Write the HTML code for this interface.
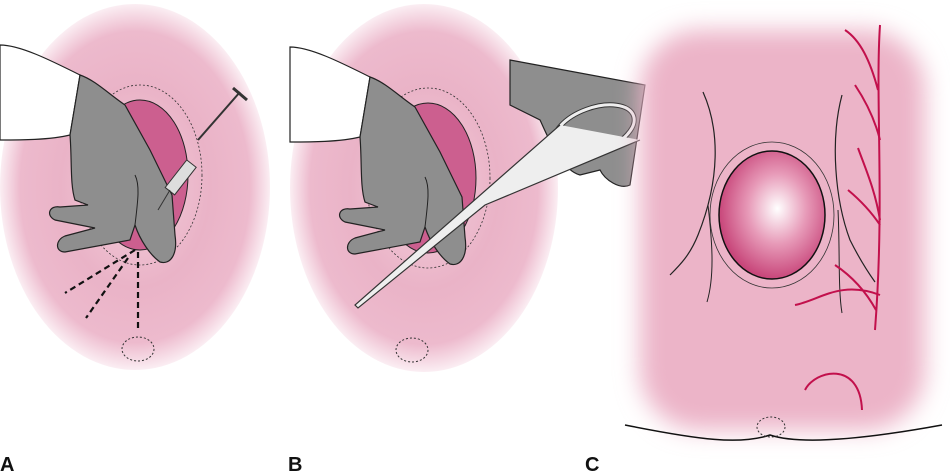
<!DOCTYPE html>
<html><head><meta charset="utf-8"><style>
html,body{margin:0;padding:0;background:#fff;width:950px;height:475px;overflow:hidden}
svg{display:block}
text{font-family:"Liberation Sans",sans-serif;font-weight:bold;font-size:20px;fill:#111}
</style></head><body>
<svg width="950" height="475" viewBox="0 0 950 475" xmlns="http://www.w3.org/2000/svg">
<defs>
<radialGradient id="pk" cx="50%" cy="50%" r="50%">
<stop offset="0" stop-color="#f3cfdc"/><stop offset="0.55" stop-color="#eab3c7"/><stop offset="0.85" stop-color="#edbacd"/><stop offset="1" stop-color="#fbeef3"/>
</radialGradient>
<radialGradient id="sac" cx="55%" cy="45%" r="55%">
<stop offset="0" stop-color="#fff"/><stop offset="0.5" stop-color="#e79ab8"/><stop offset="1" stop-color="#c8467a"/>
</radialGradient>
<filter id="bl"><feGaussianBlur stdDeviation="12"/></filter>
<g id="hand">
<path d="M0,45 C20,45 50,60 80,75 L70,135 C50,140 20,140 0,140 Z" fill="#fff" stroke="#222" stroke-width="1.2"/>
<path d="M80,75 C95,80 110,95 125,105 L150,150 L172,195 L175,235 C178,255 170,265 160,262 C150,255 140,240 135,225 L130,240 L65,252 C55,252 55,240 65,236 L95,228 L55,220 C45,215 50,205 60,207 L88,205 L75,200 C70,185 72,160 70,135 Z" fill="#8e8e8e" stroke="#222" stroke-width="1.2"/>
<path d="M135,225 C138,200 140,185 135,175" fill="none" stroke="#222" stroke-width="1"/>
</g>
</defs>
<ellipse cx="135" cy="187" rx="135" ry="183" fill="url(#pk)"/>
<ellipse cx="140" cy="175" rx="48" ry="75" fill="#cc5f8f" stroke="#222"/>
<ellipse cx="140" cy="175" rx="62" ry="90" fill="none" stroke="#333" stroke-dasharray="2 2" stroke-width="0.8"/>
<use href="#hand"/>
<g stroke="#333" fill="#ddd" stroke-width="1">
<rect x="175" y="160" width="12" height="35" transform="rotate(38 181 177)"/>
<line x1="170" y1="190" x2="158" y2="210"/>
<line x1="198" y1="140" x2="240" y2="92" stroke-width="2"/>
<line x1="233" y1="88" x2="247" y2="100" stroke-width="3"/>
</g>
<g stroke="#111" stroke-width="2.2" stroke-dasharray="6 4" fill="none">
<line x1="135" y1="250" x2="65" y2="293"/><line x1="128" y1="258" x2="86" y2="318"/><line x1="138" y1="252" x2="138" y2="330"/>
</g>
<ellipse cx="138" cy="349" rx="16" ry="12" fill="none" stroke="#333" stroke-dasharray="2 2"/>
<ellipse cx="424" cy="188" rx="134" ry="184" fill="url(#pk)"/>
<ellipse cx="428" cy="178" rx="48" ry="75" fill="#cc5f8f" stroke="#222"/>
<ellipse cx="428" cy="178" rx="62" ry="90" fill="none" stroke="#333" stroke-dasharray="2 2" stroke-width="0.8"/>
<use href="#hand" transform="translate(290,2)"/>
<path d="M510,60 L645,85 L630,185 C620,190 605,180 600,170 L580,175 C560,170 545,130 540,120 L510,105 Z" fill="#8e8e8e" stroke="#222" stroke-width="1.2"/>
<ellipse cx="594" cy="130" rx="42" ry="22" fill="none" stroke="#333" stroke-width="5" transform="rotate(-20 594 130)"/>
<ellipse cx="594" cy="130" rx="42" ry="22" fill="none" stroke="#eee" stroke-width="3" transform="rotate(-20 594 130)"/>
<path d="M560,125 L355,305 L358,308 L485,205 L640,140" fill="#eee" stroke="#333" stroke-width="1.2"/>
<ellipse cx="412" cy="350" rx="16" ry="12" fill="none" stroke="#333" stroke-dasharray="2 2"/>
<rect x="640" y="30" width="285" height="400" rx="60" fill="#ecb4c8" filter="url(#bl)"/>
<path d="M703,92 C720,130 720,180 698,235 C690,255 680,265 670,275" fill="none" stroke="#222" stroke-width="1.2"/>
<path d="M842,95 C830,140 835,200 850,240 C860,260 870,275 875,282" fill="none" stroke="#222" stroke-width="1.2"/>
<path d="M708,205 C712,240 715,275 707,302" fill="none" stroke="#222"/>
<path d="M838,210 C840,250 838,290 842,313" fill="none" stroke="#222"/>
<ellipse cx="772" cy="215" rx="53" ry="64" fill="url(#sac)" stroke="#111" stroke-width="1.5"/>
<ellipse cx="772" cy="215" rx="62" ry="73" fill="none" stroke="#333" stroke-width="0.8"/>
<g fill="none" stroke="#c2104c" stroke-width="2">
<path d="M880,25 C875,100 885,200 875,330"/>
<path d="M845,30 C860,40 870,60 878,90"/>
<path d="M855,85 C865,100 875,120 880,140"/>
<path d="M858,148 C866,170 875,190 880,220"/>
<path d="M848,190 C860,200 870,210 880,225"/>
<path d="M835,265 C850,275 865,290 876,310"/>
<path d="M795,305 C820,300 840,280 880,295"/>
<path d="M805,390 C815,370 860,360 862,410"/>
</g>
<path d="M625,425 C700,440 740,445 770,435 C800,445 860,440 942,425" fill="none" stroke="#111" stroke-width="1.5"/>
<ellipse cx="771" cy="427" rx="14" ry="10" fill="none" stroke="#333" stroke-dasharray="2 2"/>
<text x="0" y="471">A</text>
<text x="288" y="471">B</text>
<text x="585" y="471">C</text>
</svg>
</body></html>
